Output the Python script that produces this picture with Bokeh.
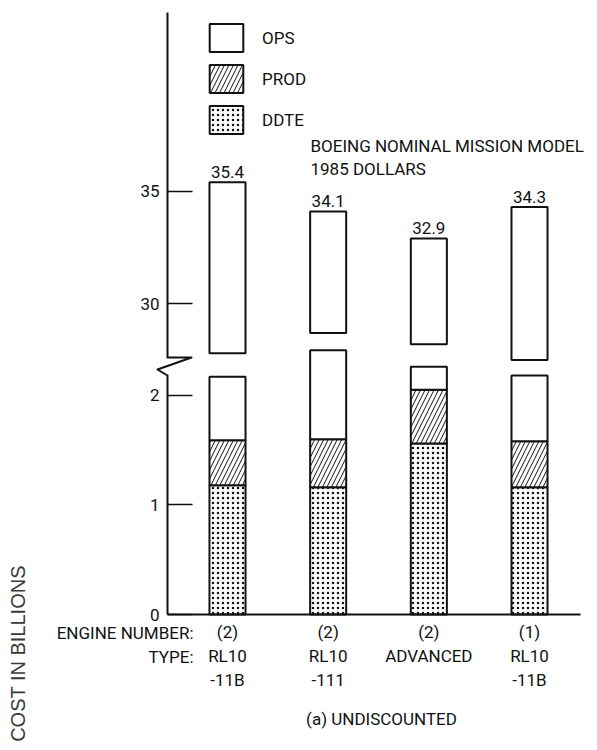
import math
from bokeh.plotting import figure
from bokeh.models import Range1d, FixedTicker, Legend, LegendItem
from bokeh.core.properties import value
from bokeh.embed import file_html
from bokeh.resources import INLINE

# ---------------- data ----------------
positions = [1, 2, 3, 4]
engine_number = ["(2)", "(2)", "(2)", "(1)"]
engine_type = ["RL10\n-11B", "RL10\n-111", "ADVANCED", "RL10\n-11B"]
ddte = [1.18, 1.16, 1.56, 1.16]
prod = [0.41, 0.44, 0.49, 0.42]
total = [35.4, 34.1, 32.9, 34.3]
total_labels = ["35.4", "34.1", "32.9", "34.3"]
# values at which each drawn bar is cut by the axis break
cut_low = [2.17, 2.41, 2.26, 2.18]
cut_high = [27.8, 28.7, 28.2, 27.5]
low_ticks = [0, 1, 2]
high_ticks = [30, 35]

# ---------------- broken-axis scale ----------------
LOW_PX = 109.6      # px per unit, lower segment
HIGH_PX = 22.52     # px per unit, upper segment
HIGH_BASE = 2.835   # where 30 sits, in lower-segment units


def hmap(u):
    return HIGH_BASE + (u - 30) * HIGH_PX / LOW_PX


FONT = "Roboto"
FS = "17px"
INK = "#111111"

W, H = 597, 750
XPX = 100.67        # px per category step
X_FIRST = 227       # page x of first bar centre
Y_ZERO = 614        # page y of zero


def px2x(ix):
    return 1 + (ix - X_FIRST) / XPX


def px2y(iy):
    return (Y_ZERO - iy) / LOW_PX


p = figure(width=W, height=H, output_backend="svg", toolbar_location=None,
           min_border_left=0, min_border_right=0, min_border_top=0,
           min_border_bottom=0,
           x_range=Range1d(px2x(0), px2x(W)), y_range=Range1d(px2y(H), px2y(0)))
p.outline_line_color = None
p.grid.visible = False
p.background_fill_color = "white"
p.border_fill_color = "white"

bw = 0.358
prod_top = [d + q for d, q in zip(ddte, prod)]

r_ddte = p.vbar(x=positions, width=bw, bottom=0, top=ddte, fill_color="white",
                line_color=INK, line_width=2, hatch_pattern=".", hatch_color=INK,
                hatch_scale=5, hatch_weight=1.5)
r_prod = p.vbar(x=positions, width=bw, bottom=ddte, top=prod_top, fill_color="white",
                line_color=INK, line_width=2, hatch_pattern="/", hatch_color=INK,
                hatch_scale=9, hatch_weight=1)
r_ops_lo = p.vbar(x=positions, width=bw, bottom=prod_top, top=cut_low,
                  fill_color="white", line_color=INK, line_width=2)
r_ops_hi = p.vbar(x=positions, width=bw, bottom=[hmap(v) for v in cut_high],
                  top=[hmap(v) for v in total], fill_color="white",
                  line_color=INK, line_width=2)

p.text(x=positions, y=[hmap(v) for v in total], text=total_labels,
       text_align="center", text_baseline="bottom", y_offset=-4,
       text_font=value(FONT), text_font_size=FS, text_color=INK)

# y axis (drawn at the axis position inside the canvas)
yticks = [float(t) for t in low_ticks] + [hmap(t) for t in high_ticks]
ylabels = [str(t) for t in low_ticks] + [str(t) for t in high_ticks]
ax = p.yaxis[0]
ax.fixed_location = px2x(167)
ax.ticker = FixedTicker(ticks=yticks)
ax.major_label_overrides = {t: l for t, l in zip(yticks, ylabels)}
ax.axis_line_color = None
ax.major_tick_in = 25
ax.major_tick_out = 0
ax.minor_tick_in = 0
ax.minor_tick_out = 0
ax.major_tick_line_color = INK
ax.major_tick_line_width = 1.5
ax.major_label_standoff = 8
ax.major_label_text_font = FONT
ax.major_label_text_font_size = FS
ax.major_label_text_color = INK

# x axis
bx = p.xaxis[0]
bx.fixed_location = 0
bx.bounds = (px2x(167), px2x(580))
bx.ticker = FixedTicker(ticks=positions)
bx.major_label_overrides = {pos: f"{n}\n{t}" for pos, n, t in zip(positions, engine_number, engine_type)}
bx.axis_line_color = INK
bx.axis_line_width = 2
bx.major_tick_in = 0
bx.major_tick_out = 0
bx.minor_tick_in = 0
bx.minor_tick_out = 0
bx.major_label_standoff = 7
bx.major_label_text_font = FONT
bx.major_label_text_font_size = FS
bx.major_label_text_color = INK
bx.major_label_text_line_height = 1.2

# axis line with break
path_px = [(167, 614), (167, 375), (157, 369), (191, 357), (167, 357), (167, 12)]
p.line(x=[px2x(a) for a, b in path_px], y=[px2y(b) for a, b in path_px],
       line_color=INK, line_width=2, line_join="round")

legend = Legend(items=[LegendItem(label="OPS", renderers=[r_ops_hi]),
                       LegendItem(label="PROD", renderers=[r_prod]),
                       LegendItem(label="DDTE", renderers=[r_ddte])],
                location=(205, 613), glyph_width=42, glyph_height=35, spacing=6,
                label_standoff=15, padding=0, margin=0, border_line_color=None,
                background_fill_alpha=0, label_text_font=FONT,
                label_text_font_size=FS, label_text_color=INK)
p.add_layout(legend)


def lab(text, ix, iy, align="left", font=FONT, size=FS, color=INK, angle=0):
    p.text(x=[px2x(ix)], y=[px2y(iy)], text=[text], text_align=align,
           text_baseline="middle", text_font=value(font), text_font_size=size,
           text_color=color, angle=angle)


lab("BOEING NOMINAL MISSION MODEL", 310, 145)
lab("1985 DOLLARS", 310, 168)
lab("ENGINE NUMBER:", 193, 632, align="right")
lab("TYPE:", 193, 656, align="right")
lab("(a) UNDISCOUNTED", 381, 718, align="center")
lab("COST IN BILLIONS", 17, 653, align="center", font="Liberation Sans",
    size="20px", color="#3a3a3a", angle=math.pi / 2)

open("out.html", "w").write(file_html(p, INLINE))
